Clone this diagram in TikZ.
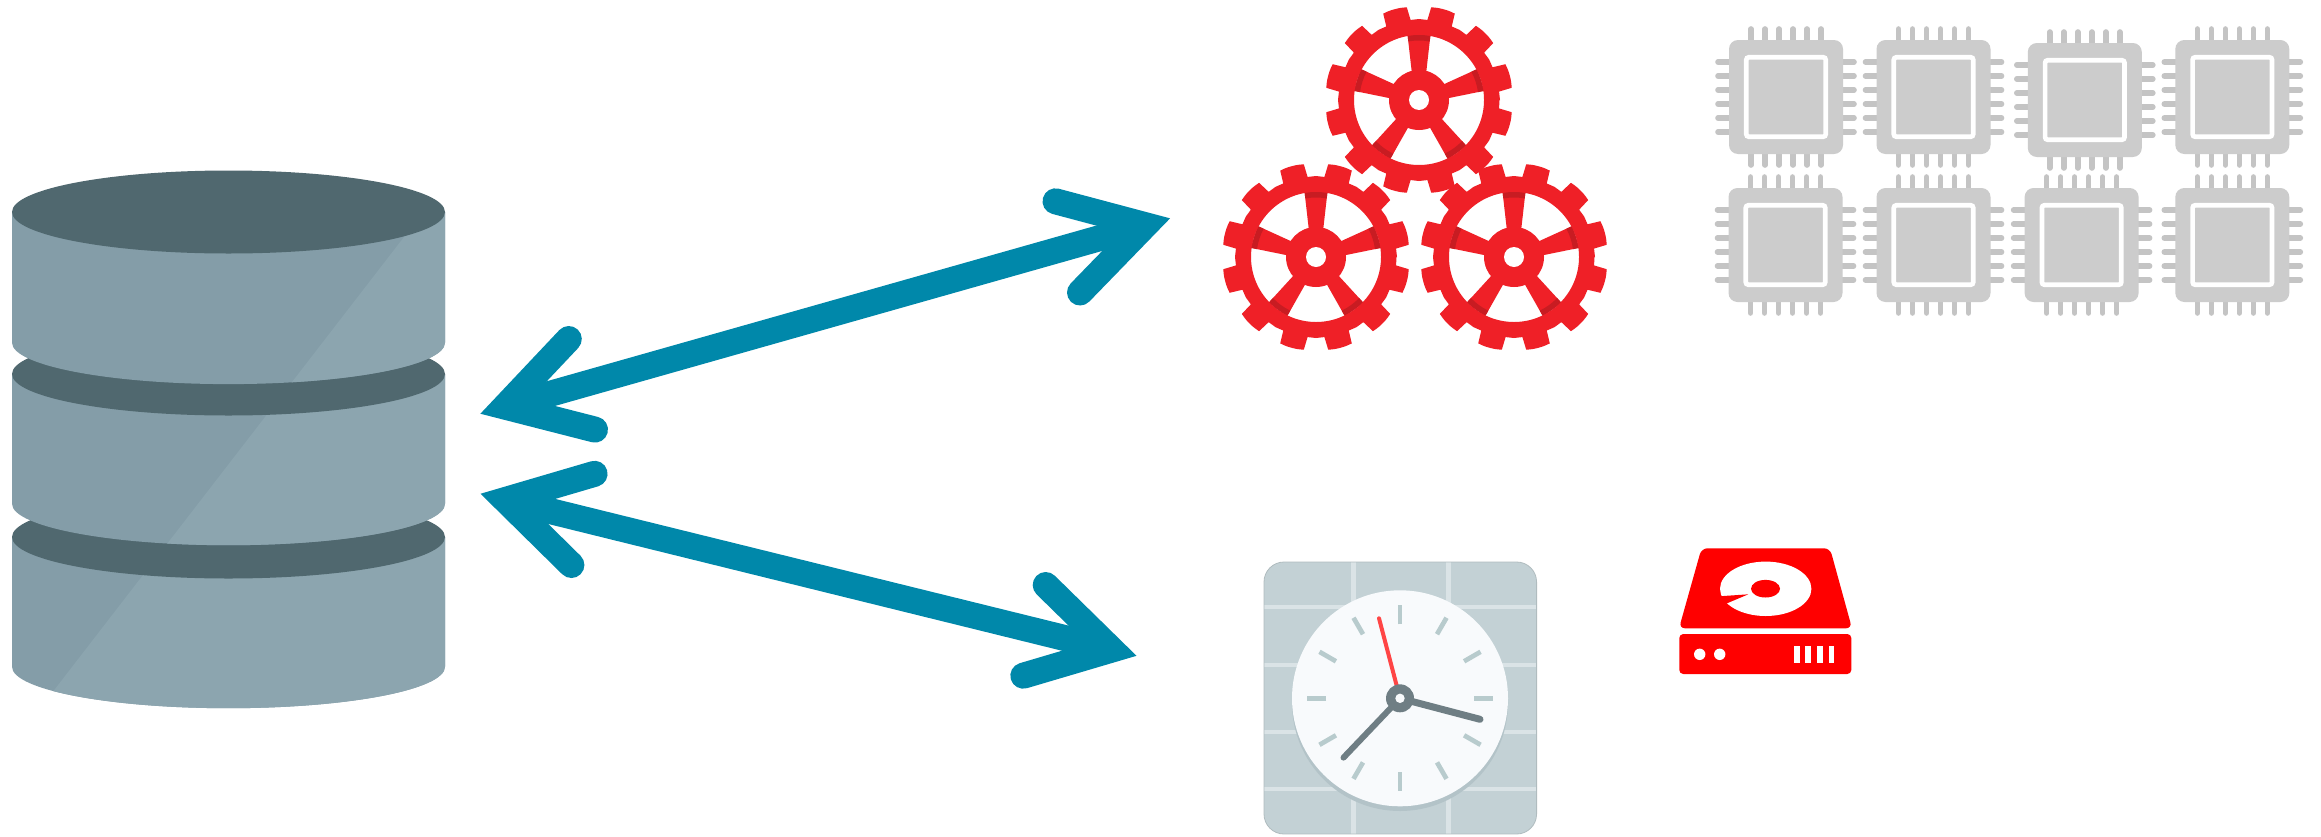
\documentclass[tikz,border=0pt]{standalone}
\definecolor{cyldark}{HTML}{50686F}
\definecolor{cylmid}{HTML}{849DA8}
\definecolor{cyllight}{HTML}{8CA5AF}
\definecolor{arrowblue}{HTML}{0088AA}
\definecolor{gearred}{HTML}{EF2027}
\definecolor{geardark}{HTML}{C81C22}
\definecolor{chipgrey}{HTML}{CCCCCC}
\definecolor{pingrey}{HTML}{C4C4C4}
\definecolor{clockbg}{HTML}{C3D1D5}
\definecolor{clockline}{HTML}{DAE3E6}
\definecolor{clockedge}{HTML}{B0BCBF}
\definecolor{clockshadow}{HTML}{B3C3C8}
\definecolor{clockface}{HTML}{F8FAFC}
\definecolor{clocktick}{HTML}{B8CBCD}
\definecolor{clockhand}{HTML}{6F7E84}
\definecolor{clockred}{HTML}{FF4545}
\newcommand\cylseg[2]{%
  \pgfmathsetmacro\cylb{#2+41.5}%
  \pgfmathsetmacro\cylc{#2+22.9}%
  \def\cylpath{(12,#1) -- (12,#2) .. controls (12,\cylc) and (109,\cylb) .. (228.5,\cylb)
     .. controls (348,\cylb) and (445,\cylc) .. (445,#2) -- (445,#1) -- cycle}%
  \fill[cylmid] \cylpath;
  \begin{scope}
    \clip \cylpath;
    \fill[cyllight] (578.5,11) -- (700,11) -- (700,800) -- (-30.7,800) -- cycle;
  \end{scope}
  \fill[cyldark] (228.5,#1) ellipse [x radius=216.5pt, y radius=41.5pt];
}
\tikzset{
  x=1pt, y=-1pt,
  arrowhead/.style={draw=arrowblue, line width=26pt, line cap=round, line join=miter, miter limit=10},
  arrowshaft/.style={draw=arrowblue, line width=26pt},
  gear/.pic={
    \fill[gearred, even odd rule] (0:80.5)
      \foreach \a in {15,45,...,345}{
        -- ({\a-9}:80.5) -- ({\a-7.5}:93.5) -- ({\a-5}:93.8) -- ({\a-2.5}:94) -- (\a:94) -- ({\a+2.5}:94) -- ({\a+5}:93.8) -- ({\a+7.5}:93.5) -- ({\a+9}:80.5) -- ({\a+15}:81)
      } -- cycle (0,0) circle[radius=65pt];
    \fill[gearred] (0,0) circle[radius=30pt];
    \foreach \a in {270,342,54,126,198}{
      \fill[gearred] ({\a-14.5}:29) -- ({\a-10}:66) -- ({\a+10}:66) -- ({\a+14.5}:29) -- cycle;
      \fill[geardark] ({\a-10}:65) -- ({\a-5}:65) -- (\a:65) -- ({\a+5}:65) -- ({\a+10}:65)
        -- ({\a+10.4}:59.5) -- ({\a+5}:59.5) -- (\a:59.5) -- ({\a-5}:59.5) -- ({\a-10.4}:59.5) -- cycle;
    }
    \fill[white] (0,0) circle[radius=10pt];
  },
  chip/.pic={
    \foreach \p in {-35,-21,-7,7,21,35}{
      \draw[pingrey, line width=5.6pt, line cap=round] (\p,-54) -- (\p,-68);
      \draw[pingrey, line width=5.6pt, line cap=round] (\p,54) -- (\p,68);
      \draw[pingrey, line width=5.6pt, line cap=round] (-54,\p) -- (-68,\p);
      \draw[pingrey, line width=5.6pt, line cap=round] (54,\p) -- (68,\p);
    }
    \fill[chipgrey, rounded corners=9pt] (-57,-57) rectangle (57,57);
    \draw[white, line width=4.7pt, rounded corners=2.5pt] (-39.7,-39.7) rectangle (39.7,39.7);
  },
}
\begin{document}
\begin{tikzpicture}
\useasboundingbox (0,0) rectangle (2321,836);
\fill[white] (0,0) rectangle (2321,836);

% database
\cylseg{537}{666.7}
\cylseg{374}{503.7}
\cylseg{212}{342.6}

% arrows
\coordinate (a1l) at (505,406.6);
\coordinate (a1r) at (1145.3,225.2);
\coordinate (a1lu) at (568.8,339);
\coordinate (a1ld) at (595,429.6);
\coordinate (a1ru) at (1055.5,201.3);
\coordinate (a1rd) at (1080,292.5);
\coordinate (a2l) at (505.4,500);
\coordinate (a2r) at (1111.6,649.6);
\coordinate (a2lu) at (594.6,473.8);
\coordinate (a2ld) at (571.4,565);
\coordinate (a2ru) at (1045.7,585);
\coordinate (a2rd) at (1023.3,675.7);
\draw[arrowshaft] (a1l) -- (a1r);
\draw[arrowshaft] (a2l) -- (a2r);
\draw[arrowhead] (a1lu) -- (a1l) -- (a1ld);
\draw[arrowhead] (a1ru) -- (a1r) -- (a1rd);
\draw[arrowhead] (a2lu) -- (a2l) -- (a2ld);
\draw[arrowhead] (a2ru) -- (a2r) -- (a2rd);

% gears
\pic at (1316,257) {gear};
\pic at (1514,257) {gear};
\pic at (1419,100) {gear};

% chips
\pic at (1786,97) {chip};
\pic at (1933.5,97) {chip};
\pic at (2084.8,100) {chip};
\pic at (2232.3,97) {chip};
\pic at (1785.5,245) {chip};
\pic at (1933.5,245) {chip};
\pic at (2081.6,245) {chip};
\pic at (2232.3,245) {chip};

% clock
\begin{scope}
  \clip[rounded corners=20pt] (1264,562) rectangle (1536.6,834);
  \fill[clockbg] (1264,562) rectangle (1536.6,834);
  \foreach \gx in {1353,1448}{\fill[clockline] (\gx-2.5,562) rectangle (\gx+2.5,834);}
  \foreach \gy in {607,665,732,789}{\fill[clockline] (1264,\gy-2.2) rectangle (1536.6,\gy+2.2);}
\end{scope}
\draw[clockedge, line width=.8pt, rounded corners=20pt] (1264,562) rectangle (1536.6,834);
\fill[clockshadow] (1400,703) circle[radius=108pt];
\fill[clockface] (1400,698.3) circle[radius=108pt];
\begin{scope}[shift={(1400,698.3)}]
  \foreach \t in {0,30,...,330}{\draw[clocktick, line width=4.7pt] (\t:74) -- (\t:93);}
  \draw[clockred, line width=4pt, line cap=round] (0,0) -- (-21,-80);
  \draw[clockhand, line width=6pt, line cap=round] (0,0) -- (-56.5,59.3);
  \draw[clockhand, line width=7pt, line cap=round] (0,0) -- (80,21);
  \fill[clockhand] (0,0) circle[radius=14pt];
  \fill[clockface] (0,0) circle[radius=4.7pt];
\end{scope}

% disk
\fill[red, rounded corners=6pt] (1701.5,548.3) -- (1830,548.3) -- (1852,628.3) -- (1679,628.3) -- cycle;
\fill[red, rounded corners=4pt] (1679.3,634) rectangle (1851.3,674);
\fill[white] (1765.7,588.8) ellipse [x radius=45.7pt, y radius=27.2pt];
\fill[red] (1765.5,588.7) ellipse [x radius=14.5pt, y radius=8.8pt];
\fill[red] (1748.3,594.3) -- (1719,596.3) -- (1716,605) -- (1727.7,603) -- cycle;
\fill[white] (1699.7,654.3) circle[radius=5.7pt];
\fill[white] (1719.7,654.3) circle[radius=5.7pt];
\foreach \bx in {1794,1805.4,1817,1828.5}{\fill[white] (\bx,646) rectangle (\bx+5.5,662.7);}
\end{tikzpicture}
\end{document}
